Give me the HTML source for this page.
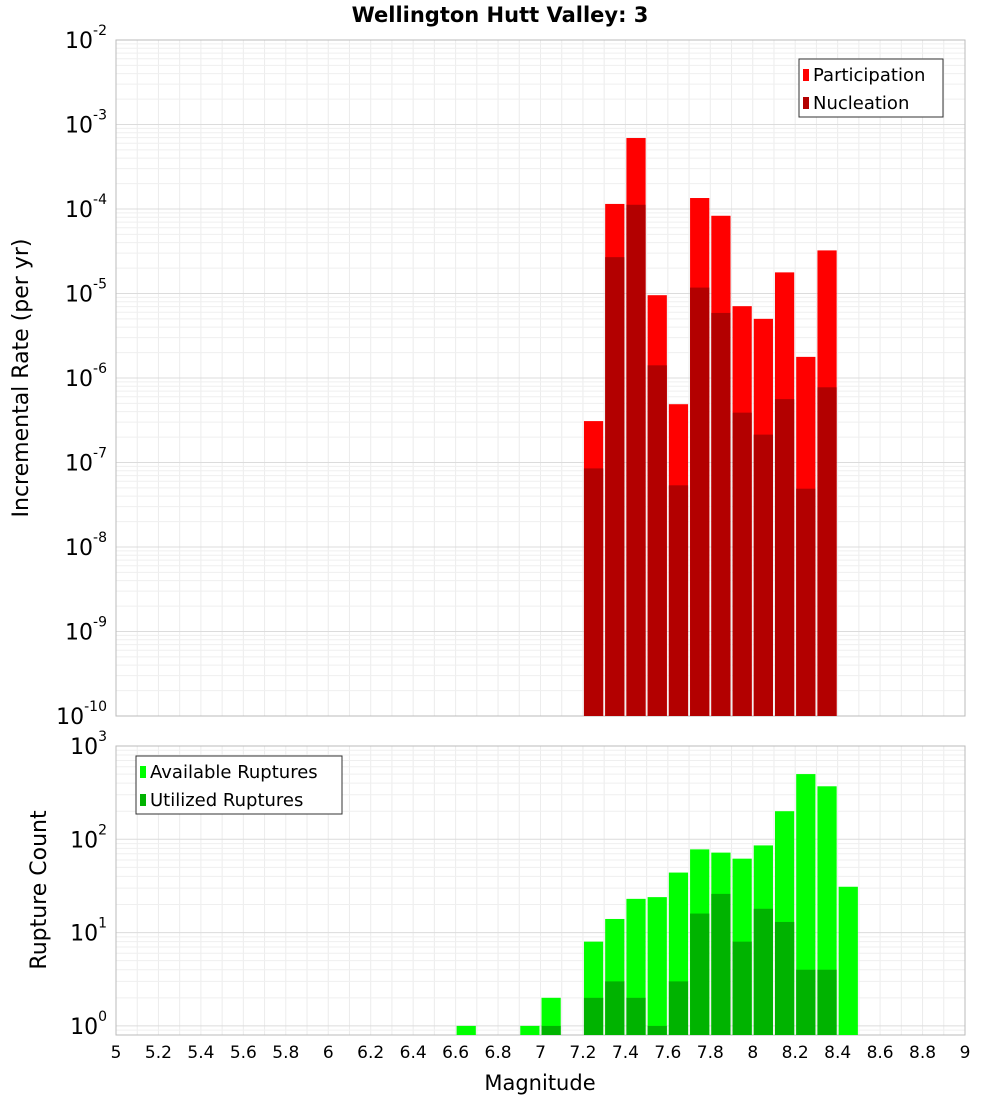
<!DOCTYPE html>
<html><head><meta charset="utf-8"><style>
body{margin:0;background:#fff;font-family:"Liberation Sans","DejaVu Sans",sans-serif}
</style></head><body>
<svg id="c" width="1000" height="1100" xmlns="http://www.w3.org/2000/svg" font-family="DejaVu Sans, Liberation Sans, sans-serif"></svg>
<script>
const bins=[7.25,7.35,7.45,7.55,7.65,7.75,7.85,7.95,8.05,8.15,8.25,8.35];
const partLog=[-6.51,-3.94,-3.16,-5.02,-6.31,-3.87,-4.08,-5.15,-5.30,-4.75,-5.75,-4.49];
const nucLog=[-7.07,-4.57,-3.95,-5.85,-7.27,-4.93,-5.23,-6.41,-6.67,-6.25,-7.31,-6.11];
const cBins=[6.65,6.95,7.05,7.25,7.35,7.45,7.55,7.65,7.75,7.85,7.95,8.05,8.15,8.25,8.35,8.45];
const availCount=[1,1,2,8,14,23,24,44,78,72,62,86,200,500,370,31];
const utilCount=[0,0,1,2,3,2,1,3,16,26,8,18,13,4,4,0];
const xTicks=[5,5.2,5.4,5.6,5.8,6,6.2,6.4,6.6,6.8,7,7.2,7.4,7.6,7.8,8,8.2,8.4,8.6,8.8,9];
const topExp=[-2,-3,-4,-5,-6,-7,-8,-9,-10];
const botExp=[3,2,1,0];

const svg=document.getElementById('c');const NS='http://www.w3.org/2000/svg';
function el(t,a,p){const e=document.createElementNS(NS,t);for(const k in a)e.setAttribute(k,a[k]);(p||svg).appendChild(e);return e;}
const X0=116,X1=965;
const x=m=>X0+(m-5)/4*(X1-X0);
const T0=40,T1=716;const yT=l=>T0+(-2-l)/8*(T1-T0);
const B0=746,B1=1035,BD=93.3;const yB=v=>B0+(3-Math.log10(v))*BD;

function panel(y0,y1,ylo,yhi,yf,name){
  const g=el('g',{});
  
  
  for(let m=5;m<=9.001;m+=0.1){el('line',{x1:x(m),x2:x(m),y1:y0,y2:y1,stroke:'#ececec'},g);}
  for(let e=ylo;e<yhi;e++){for(let k=1;k<10;k++){const yy=yf(e+Math.log10(k));if(yy>=y0&&yy<=y1)el('line',{x1:X0,x2:X1,y1:yy,y2:yy,stroke:k==1?'#dcdcdc':'#efefef'},g);}}
  const r=el('rect',{x:X0,y:y0,width:X1-X0,height:y1-y0,fill:'none',stroke:'#bbb'});
  
  
}
panel(T0,T1,-10,-2,yT,'rate');
panel(B0,B1,-1,3,l=>B0+(3-l)*BD,'count');

const hw=x(5.1)-x(5)-2;
bins.forEach((b,i)=>{
  const r=el('rect',{x:x(b-0.05)+1,y:yT(partLog[i]),width:hw,height:T1-yT(partLog[i]),fill:'#ff0000'});
  
  
  const n=el('rect',{x:x(b-0.05)+1,y:yT(nucLog[i]),width:hw,height:T1-yT(nucLog[i]),fill:'#b30000'});
  
  
});
cBins.forEach((b,i)=>{
  if(availCount[i]>0){const r=el('rect',{x:x(b-0.05)+1,y:yB(availCount[i]),width:hw,height:B1-yB(availCount[i]),fill:'#00ff00'});
  
  }
  if(utilCount[i]>0){const n=el('rect',{x:x(b-0.05)+1,y:yB(utilCount[i]),width:hw,height:B1-yB(utilCount[i]),fill:'#00b300'});
  
  }
});
function txt(s,a,name){const t=el('text',a);t.textContent=s;return t;}
xTicks.forEach(v=>{txt(String(Math.round(v*10)/10),{x:x(v),y:1058,'text-anchor':'middle','font-size':17},'x-tick-label');});
function expLabel(e,yy,name){const t=el('text',{x:107,y:yy+8,'text-anchor':'end','font-size':22});
  t.textContent='10';const s=el('tspan',{dy:-13,'font-size':14},t);s.textContent=String(e);}
topExp.forEach(e=>expLabel(e,yT(e),'y-tick-label'));
botExp.forEach(e=>expLabel(e,B0+(3-e)*BD,'count-tick-label'));
txt('Wellington Hutt Valley: 3',{x:500,y:22,'text-anchor':'middle','font-size':21,'font-weight':'bold'},'chart-title');
txt('Magnitude',{x:540,y:1090,'text-anchor':'middle','font-size':21},'x-axis-title');
txt('Incremental Rate (per yr)',{x:28,y:378,'text-anchor':'middle','font-size':22,transform:'rotate(-90 28 378)'},'y-axis-title');
txt('Rupture Count',{x:46,y:890,'text-anchor':'middle','font-size':22,transform:'rotate(-90 46 890)'},'count-axis-title');
function legend(x0,y0,w,items,name){const g=el('g',{});
  el('rect',{x:x0,y:y0,width:w,height:58,fill:'#fff',stroke:'#333'},g);
  items.forEach((it,i)=>{el('rect',{x:x0+4,y:y0+10+i*28,width:6,height:12,fill:it[1]},g);
    const t=el('text',{x:x0+14,y:y0+22+i*28,'font-size':18},g);t.textContent=it[0];});}
legend(799,59,144,[['Participation','#ff0000'],['Nucleation','#b30000']],'rate-legend');
legend(136,756,206,[['Available Ruptures','#00ff00'],['Utilized Ruptures','#00b300']],'count-legend');
</script>
</body></html>
